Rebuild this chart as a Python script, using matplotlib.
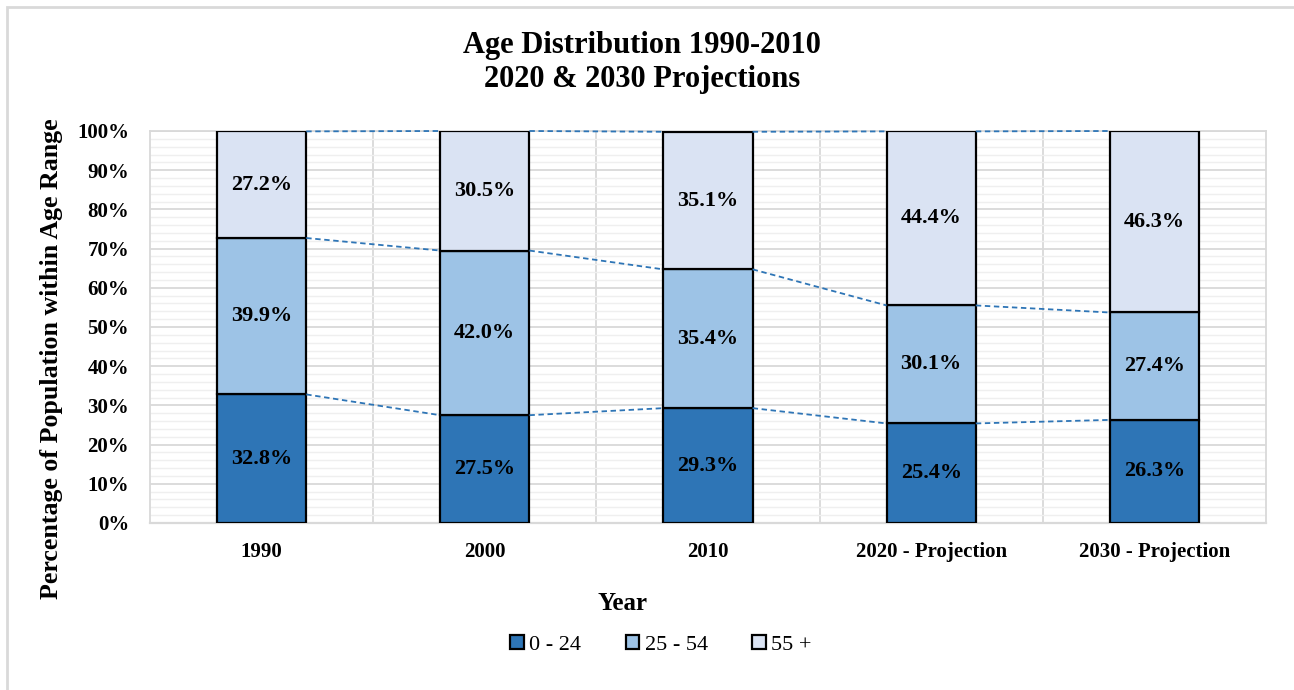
import numpy as np
import matplotlib
matplotlib.use('Agg')
import matplotlib.pyplot as plt
from matplotlib.patches import Rectangle
from matplotlib.ticker import MultipleLocator, PercentFormatter

plt.rcParams['font.family'] = ['Liberation Serif', 'DejaVu Serif']

years = ['1990', '2000', '2010', '2020 - Projection', '2030 - Projection']
groups = ['0 - 24', '25 - 54', '55 +']
young = [32.8, 27.5, 29.3, 25.4, 26.3]
middle = [39.9, 42.0, 35.4, 30.1, 27.4]
older = [27.2, 30.5, 35.1, 44.4, 46.3]
colors = ['#2E75B6', '#9DC3E6', '#DAE3F3']

fig = plt.figure(figsize=(12.94, 6.9), dpi=100)
ax = fig.add_axes([150/1294, 1 - 523/690, 1116/1294, 392/690])

x = np.arange(len(years))
w = 0.4
bottom = np.zeros(len(years))
for vals, name, c in zip([young, middle, older], groups, colors):
    vals = np.array(vals)
    ax.bar(x, vals, w, bottom=bottom, color=c, edgecolor='black', linewidth=1.6,
           label=name, zorder=3)
    for xi, b, v in zip(x, bottom, vals):
        ax.text(xi, b + v / 2, f'{v:.1f}%', ha='center', va='center',
                fontsize=16, fontweight='bold', zorder=4)
    bottom = bottom + vals
    # series lines between bars
    for i in range(len(years) - 1):
        ax.plot([x[i] + w / 2, x[i + 1] - w / 2], [bottom[i], bottom[i + 1]],
                ls=(0, (3, 2)), color='#2E75B6', lw=1.3, zorder=5, clip_on=False)

ax.set_xlim(-0.5, len(years) - 0.5)
ax.set_ylim(0, 100)
ax.yaxis.set_major_locator(MultipleLocator(10))
ax.yaxis.set_minor_locator(MultipleLocator(2))
ax.yaxis.set_major_formatter(PercentFormatter(decimals=0))
ax.set_xticks(x)
ax.set_xticklabels(years, fontsize=15, fontweight='bold')
for lab in ax.get_yticklabels():
    lab.set_fontsize(15)
    lab.set_fontweight('bold')
ax.tick_params(axis='both', length=0)
ax.tick_params(axis='y', pad=15)
ax.tick_params(axis='y', which='minor', length=0)
ax.tick_params(axis='x', pad=14)

ax.grid(axis='y', which='major', color='#D9D9D9', lw=1.3, zorder=0)
ax.grid(axis='y', which='minor', color='#EFEFEF', lw=1.0, zorder=0)
for b in np.arange(0.5, len(years) - 1, 1):
    ax.axvline(b, color='#D9D9D9', lw=1.3, zorder=1)
for s in ['top', 'right', 'left']:
    ax.spines[s].set_color('#D9D9D9')
    ax.spines[s].set_linewidth(1.3)
ax.spines['bottom'].set_color('#D9D9D9')
ax.spines['bottom'].set_linewidth(1.6)

fig.text(0.496, 1 - 45/690, 'Age Distribution 1990-2010', ha='center', va='center',
         fontsize=22, fontweight='bold')
fig.text(0.496, 1 - 80/690, '2020 & 2030 Projections', ha='center', va='center',
         fontsize=22, fontweight='bold')
fig.text(52/1294, 1 - 359/690, 'Percentage of Population within Age Range',
         rotation=90, ha='center', va='center', fontsize=18.6, fontweight='bold')
fig.text(622/1294, 1 - 603/690, 'Year', ha='center', va='center',
         fontsize=18, fontweight='bold')

fig.legend(loc='center', bbox_to_anchor=(661/1294, 1 - 645/690), ncol=3,
           frameon=False, fontsize=16, handlelength=0.6, handleheight=0.6,
           handletextpad=0.25, columnspacing=2.0)

fig.patches.append(Rectangle((7/1294, -0.01), 1.0, 1 - 7/690 + 0.01,
                             transform=fig.transFigure, fill=False,
                             edgecolor='#D9D9D9', lw=2))

fig.savefig('out.png', dpi=100)
